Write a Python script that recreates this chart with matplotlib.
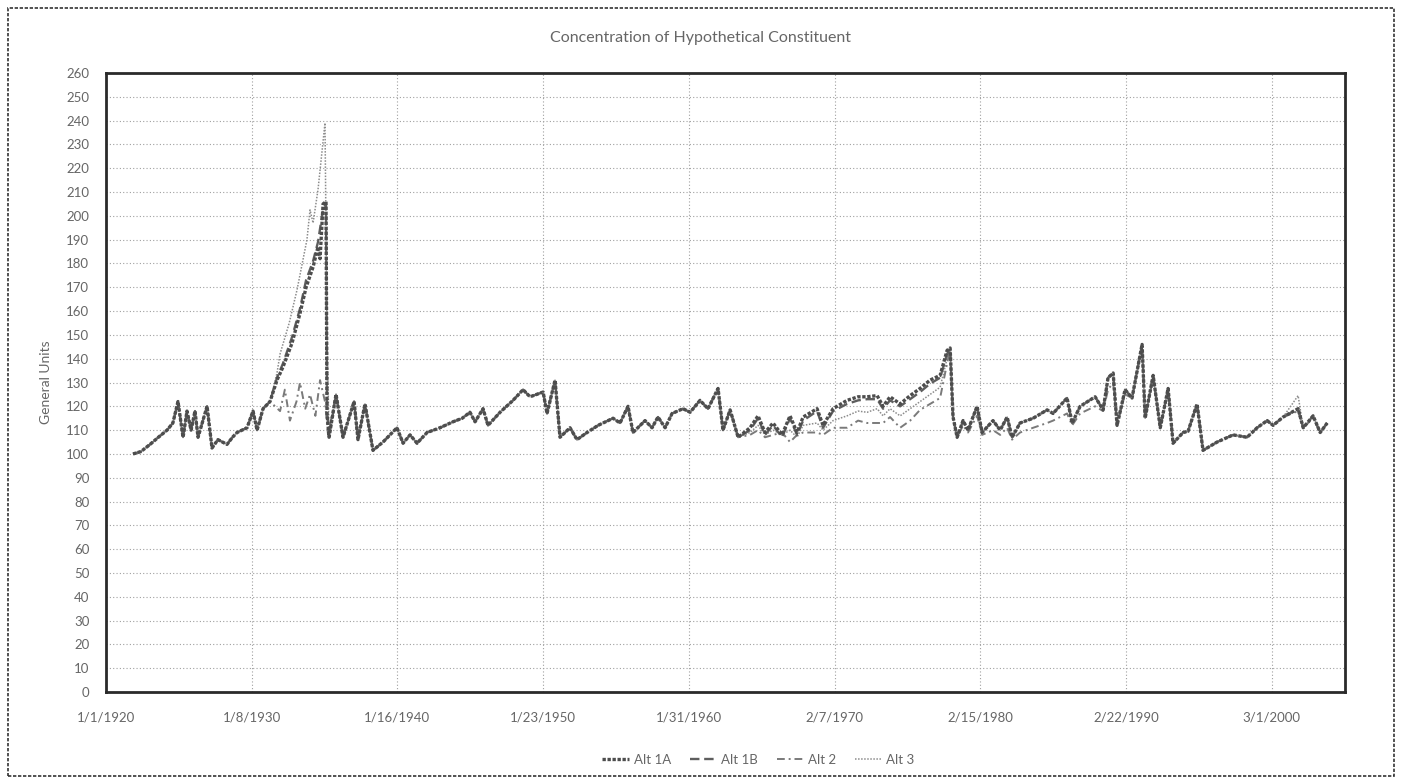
import matplotlib
matplotlib.use("Agg")
import matplotlib.pyplot as plt
from matplotlib.patches import Rectangle

plt.rcParams['font.family'] = ['Lato', 'DejaVu Sans']

# ---- data (decimal year, general units) ----
# part shared by every alternative, 1921 - 1931
yr_early = [1921.86, 1922.4, 1923.03, 1923.6, 1924.20, 1924.6, 1924.95, 1925.30, 1925.57,
            1925.85, 1926.12, 1926.33, 1926.95, 1927.29, 1927.70, 1928.32, 1928.7,
            1929.01, 1929.70, 1930.11, 1930.39, 1930.80, 1931.28]
v_early = [100, 101, 104, 107, 110, 113, 122, 107, 118,
           110, 118, 107, 120, 102.5, 106, 104, 107,
           109, 111, 118, 110, 119, 122]

# 1931 - 1935 build-up and spike, different per alternative
yr_spike_1a = [1931.76, 1932.17, 1932.79, 1933.34, 1933.76, 1934.24, 1934.58, 1934.72,
               1934.93, 1935.13, 1935.20, 1935.34]
v_spike_1a = [131, 136.5, 146.5, 159, 170, 178.5, 187, 182, 205, 206, 117, 107]

yr_spike_1b = [1931.76, 1932.17, 1932.79, 1933.34, 1933.76, 1934.24, 1934.58,
               1934.93, 1935.13, 1935.20, 1935.34]
v_spike_1b = [132, 138, 149, 161, 173, 181, 189, 203, 205, 118, 107]

yr_spike_2 = [1931.97, 1932.3, 1932.65, 1933.1, 1933.34, 1933.7, 1934.03, 1934.4,
              1934.72, 1935.06, 1935.27]
v_spike_2 = [118, 127, 114, 122, 130, 119, 125, 116, 131, 122, 108]

yr_spike_3 = [1931.76, 1931.97, 1932.6, 1933.14, 1933.82, 1934.03, 1934.24, 1934.58,
              1935.06, 1935.20, 1935.34]
v_spike_3 = [134, 142, 155, 169, 190, 202.5, 197, 211, 239, 150, 108]

# shared, 1935 - 1963
yr_mid = [1935.82, 1936.30, 1937.06, 1937.33, 1937.81, 1938.36, 1939.05, 1940.01, 1940.43,
          1940.91, 1941.39, 1942.08, 1942.97, 1943.86, 1944.5, 1945.03, 1945.38, 1945.93,
          1946.27, 1947.10, 1947.99, 1948.68, 1949.16, 1950.06, 1950.33, 1950.88,
          1951.22, 1951.91, 1952.39, 1953.08, 1953.84, 1954.87, 1955.35, 1955.90,
          1956.24, 1957.07, 1957.55, 1957.96, 1958.45, 1958.93, 1959.68, 1960.17,
          1960.85, 1961.40, 1962.09, 1962.43, 1962.92, 1963.47]
v_mid = [125, 107, 122, 106, 121, 101.5, 105, 111, 104.5,
         108, 104.5, 109, 111, 113.5, 115, 117.5, 113.5, 119,
         112, 117.5, 122.5, 127, 124, 126, 117, 131,
         107, 111, 106, 109, 112, 115, 113, 120,
         109, 114, 111, 115.5, 111, 117, 119, 117.5,
         122.5, 119, 127.5, 110, 118.5, 107]

# 1964 - 1978, alternatives split apart
yr_70s = [1964.29, 1964.84, 1965.32, 1965.87, 1966.49, 1967.04, 1967.52, 1967.94,
          1968.90, 1969.31, 1970.00, 1970.96, 1971.72, 1972.34, 1973.03, 1973.44,
          1973.92, 1974.61, 1975.30, 1975.98, 1976.67, 1977.36, 1977.84, 1978.05]
v_70s_1a = [111, 116, 109, 113, 108, 116, 109, 115.5,
            119, 112, 119, 122.5, 124, 124, 124.5, 120,
            124, 121, 124.5, 127.5, 131, 133, 143.5, 144.5]
v_70s_1b = [110, 115, 108, 112, 107, 115, 108, 114,
            118, 111, 118, 121, 122.5, 123, 123, 119,
            122.5, 120, 123, 126, 129.5, 132, 142, 144]
v_70s_2 = [108, 110, 107, 108, 109, 105, 108, 109,
           109, 108, 111, 111, 114, 113, 113, 113,
           115.5, 111, 114, 118.5, 121, 123.5, 138, 144]
v_70s_3 = [109, 112, 108, 110, 108, 110, 107, 112,
           113, 110, 114, 116, 118, 117.5, 119, 116,
           119, 116, 119, 122, 125, 128, 140, 144]

# shared, 1978 - 2004
yr_late = [1978.25, 1978.53, 1978.94, 1979.28, 1979.90, 1980.25, 1981.00, 1981.49,
           1981.97, 1982.31, 1982.86, 1983.76, 1984.72, 1985.13, 1986.09, 1986.44,
           1986.99, 1988.02, 1988.57, 1988.91, 1989.26, 1989.53, 1990.08, 1990.56,
           1991.25, 1991.46, 1992.01, 1992.50, 1993.04, 1993.38, 1994.07, 1994.41,
           1995.03, 1995.44, 1996.41, 1997.51, 1998.47, 1999.16, 1999.85, 2000.26,
           2000.95, 2001.98, 2002.33, 2003.01, 2003.50, 2003.98]
v_late_1a = [115.5, 107, 114, 110, 120, 109, 114, 110,
             115.5, 107, 113, 115, 118.5, 117, 123.5, 113,
             120, 124, 118.5, 132, 134, 112, 127, 123.5,
             146, 115, 133, 111, 127.5, 104.5, 109, 109.5,
             121, 101.5, 105, 108, 107, 111, 114, 112,
             115.5, 119, 111, 116, 109, 113]
v_late_2 = [115.5, 107, 112, 109, 116, 108, 110, 108,
            111, 106, 109, 111, 113, 114, 117, 112,
            117, 120, 118, 127, 130, 113, 125, 123.5,
            145, 115, 132, 111, 127, 104.5, 109, 109.5,
            121, 101.5, 105, 108, 107, 111, 114, 112,
            115.5, 118, 111, 115, 109, 113]
v_late_3 = [115.5, 107, 114, 110, 120, 109, 114, 110,
            115.5, 107, 113, 115, 118.5, 117, 123.5, 113,
            120, 124, 118.5, 132, 133, 112, 127, 123.5,
            146, 115, 133, 111, 127.5, 104.5, 109, 109.5,
            121, 101.5, 105, 108, 107, 111, 114, 112,
            115.5, 124.5, 111, 116, 109, 113]

tick_labels = ['1/1/1920', '1/8/1930', '1/16/1940', '1/23/1950', '1/31/1960',
               '2/7/1970', '2/15/1980', '2/22/1990', '3/1/2000']
y_ticks = list(range(0, 261, 10))

series = {
    'Alt 1A': (yr_early + yr_spike_1a + yr_mid + yr_70s + yr_late,
               v_early + v_spike_1a + v_mid + v_70s_1a + v_late_1a),
    'Alt 1B': (yr_early + yr_spike_1b + yr_mid + yr_70s + yr_late,
               v_early + v_spike_1b + v_mid + v_70s_1b + v_late_1a),
    'Alt 2': (yr_early + yr_spike_2 + yr_mid + yr_70s + yr_late,
              v_early + v_spike_2 + v_mid + v_70s_2 + v_late_2),
    'Alt 3': (yr_early + yr_spike_3 + yr_mid + yr_70s + yr_late,
              v_early + v_spike_3 + v_mid + v_70s_3 + v_late_3),
}
styles = {
    'Alt 1A': dict(color='#4d4d4d', lw=2.4, ls=(0, (1, 0.5))),
    'Alt 1B': dict(color='#5e5e5e', lw=1.7, ls=(0, (4, 2))),
    'Alt 2': dict(color='#7a7a7a', lw=1.4, ls=(0, (4, 2, 1, 2))),
    'Alt 3': dict(color='#8c8c8c', lw=1.1, ls=(0, (1, 1))),
}

fig = plt.figure(figsize=(14.02, 7.84), dpi=100)
fig.patches.append(Rectangle((0.006, 0.01), 0.988, 0.98, transform=fig.transFigure,
                             fill=False, ec='#333333', lw=1.2, ls=(0, (2, 1))))
ax = fig.add_axes([0.0756, 0.1173, 0.8837, 0.7896])

txt = '#666666'
for name in ['Alt 3', 'Alt 2', 'Alt 1B', 'Alt 1A']:
    x, y = series[name]
    ax.plot(x, y, label=name, **styles[name])

step = 3660 / 365.25
ax.set_xticks([1920 + i * step for i in range(len(tick_labels))])
ax.set_xticklabels(tick_labels)
ax.set_xlim(1920, 2005.2)
ax.set_yticks(y_ticks)
ax.set_ylim(0, 260)
ax.grid(True, color='#a0a0a0', ls=(0, (1, 2)), lw=0.8)
ax.tick_params(length=0, labelsize=9.5, labelcolor=txt)
ax.tick_params(axis='x', pad=14)
ax.tick_params(axis='y', pad=12)
for s in ax.spines.values():
    s.set_linewidth(2)
    s.set_color('#2a2a2a')

ax.set_ylabel('General Units', fontsize=10, color=txt, labelpad=10)
fig.text(0.5, 0.951, 'Concentration of Hypothetical Constituent', ha='center', va='center',
         fontsize=11.5, color=txt)

h, l = ax.get_legend_handles_labels()
order = [l.index(n) for n in ['Alt 1A', 'Alt 1B', 'Alt 2', 'Alt 3']]
fig.legend([h[i] for i in order], [l[i] for i in order], loc='center',
           bbox_to_anchor=(0.541, 0.031), ncol=4, frameon=False, fontsize=9.5,
           labelcolor=txt, handlelength=2.0, handletextpad=0.4, columnspacing=1.4)

fig.savefig('out.png', dpi=100)
